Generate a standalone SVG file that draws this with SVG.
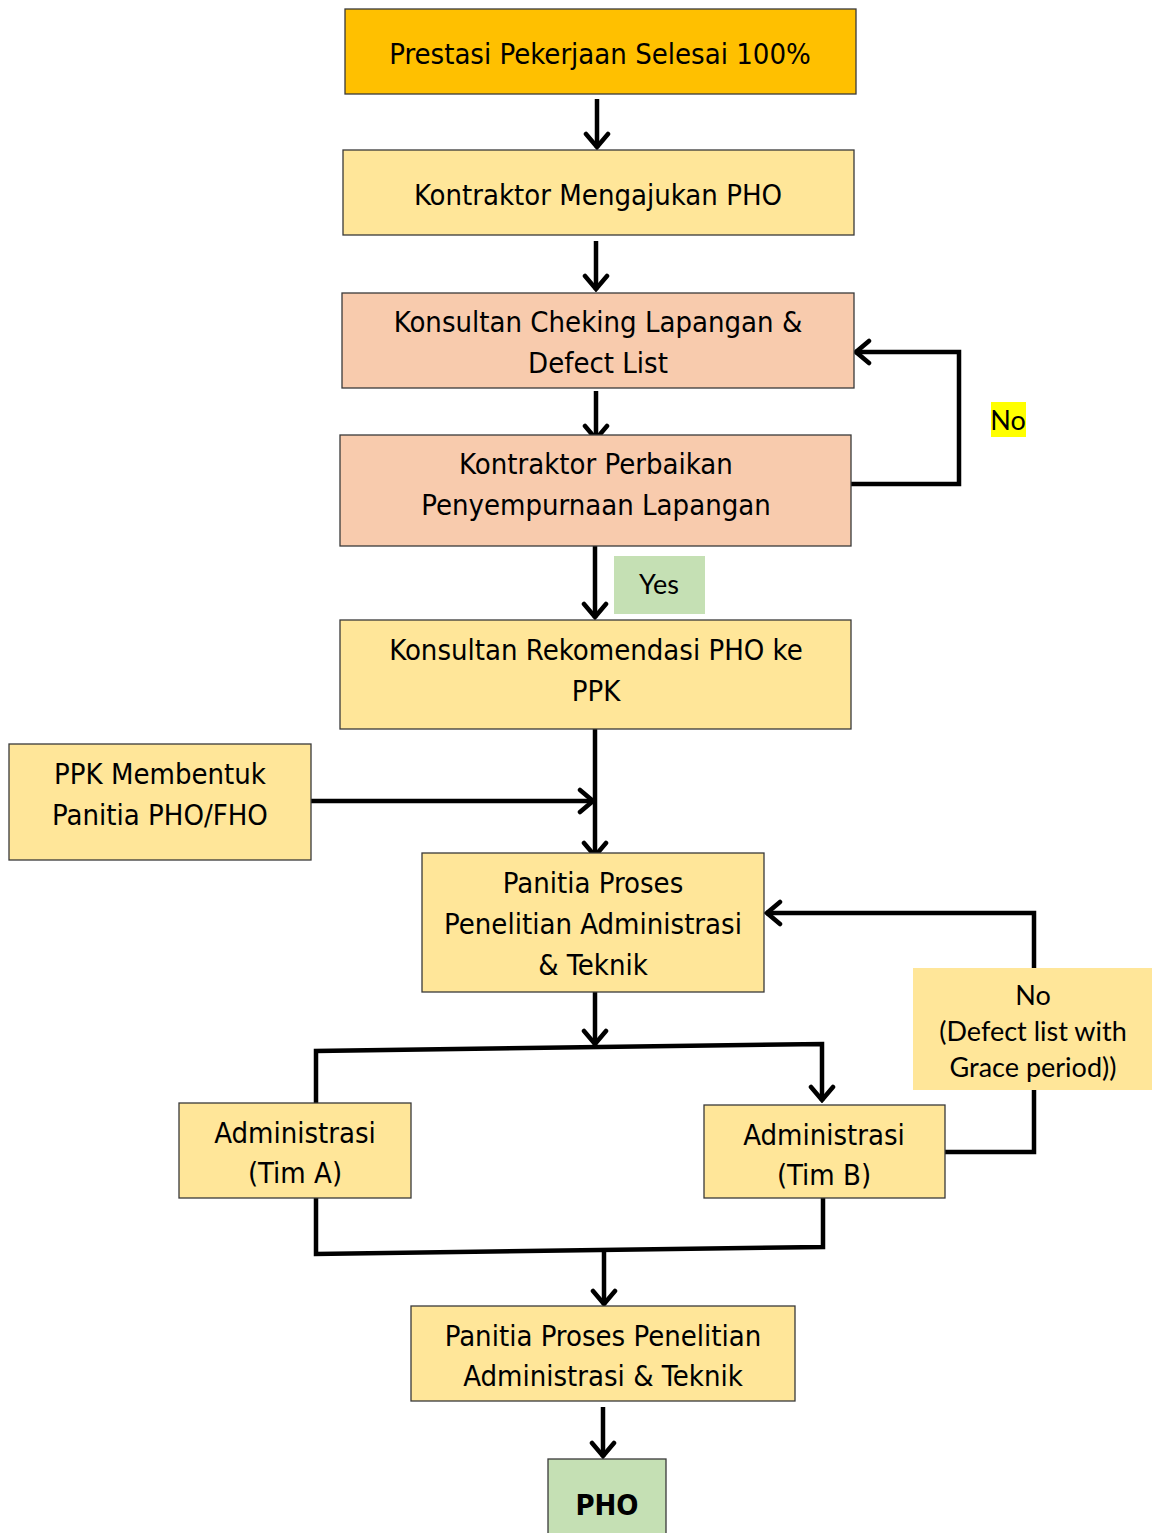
<svg xmlns="http://www.w3.org/2000/svg" width="1152" height="1533" viewBox="0 0 1152 1533">
<defs>
<style>
.box{stroke:#3a3a3a;stroke-width:1.3}
.t{font-family:"DejaVu Sans Condensed","DejaVu Sans",sans-serif;font-size:29px;fill:#000;text-anchor:middle}
.c{font-family:Lato,"Open Sans",sans-serif;font-size:27px;fill:#000;text-anchor:middle}
.ln{fill:none;stroke:#000;stroke-width:4.5;stroke-linejoin:miter}
</style>
<marker id="ah" viewBox="0 0 24 28" refX="22" refY="14" markerWidth="24" markerHeight="28" markerUnits="userSpaceOnUse" orient="auto">
<path d="M8,3 L21,14 L8,25" fill="none" stroke="#000" stroke-width="4.5" stroke-linecap="round"/>
</marker>
</defs>
<rect width="1152" height="1533" fill="#fff"/>
<g id="connectors">
<line class="ln" x1="597" y1="99" x2="597" y2="148" marker-end="url(#ah)"/>
<line class="ln" x1="596" y1="241" x2="596" y2="290" marker-end="url(#ah)"/>
<line class="ln" x1="596" y1="391" x2="596" y2="440" marker-end="url(#ah)"/>
<polyline class="ln" points="851,484 959,484 959,352 855,352" marker-end="url(#ah)"/>
<line class="ln" x1="595" y1="546" x2="595" y2="618" marker-end="url(#ah)"/>
<line class="ln" x1="595" y1="729" x2="595" y2="857" marker-end="url(#ah)"/>
<line class="ln" x1="311" y1="801" x2="594" y2="801" marker-end="url(#ah)"/>
<line class="ln" x1="595" y1="992" x2="595" y2="1045" marker-end="url(#ah)"/>
<polyline class="ln" points="316,1107 316,1051 822,1044 822,1101" marker-end="url(#ah)"/>
<polyline class="ln" points="945,1152 1034,1152 1034,913 766,913" marker-end="url(#ah)"/>
<polyline class="ln" points="316,1198 316,1254 823,1247 823,1198"/>
<line class="ln" x1="604" y1="1251" x2="604" y2="1305" marker-end="url(#ah)"/>
<line class="ln" x1="603" y1="1407" x2="603" y2="1457" marker-end="url(#ah)"/>
</g>
<g id="n1"><rect class="box" x="345" y="9" width="511" height="85" fill="#FFC000"/><text class="t" x="600" y="64">Prestasi Pekerjaan Selesai 100%</text></g>
<g id="n2"><rect class="box" x="343" y="150" width="511" height="85" fill="#FFE699"/><text class="t" x="598" y="205">Kontraktor Mengajukan PHO</text></g>
<g id="n3"><rect class="box" x="342" y="293" width="512" height="95" fill="#F8CBAD"/><text class="t" x="598" y="332">Konsultan Cheking Lapangan &amp;</text><text class="t" x="598" y="373">Defect List</text></g>
<g id="n4"><rect class="box" x="340" y="435" width="511" height="111" fill="#F8CBAD"/><text class="t" x="596" y="474">Kontraktor Perbaikan</text><text class="t" x="596" y="515">Penyempurnaan Lapangan</text></g>
<g id="lblNo1"><rect x="991" y="402" width="35" height="35" fill="#FFFF00"/><text class="c" x="1008" y="430">No</text></g>
<g id="lblYes"><rect x="614" y="556" width="91" height="58" fill="#C5E0B4"/><text class="c" x="659" y="594">Yes</text></g>
<g id="n5"><rect class="box" x="340" y="620" width="511" height="109" fill="#FFE699"/><text class="t" x="596" y="660">Konsultan Rekomendasi PHO ke</text><text class="t" x="596" y="701">PPK</text></g>
<g id="n6"><rect class="box" x="9" y="744" width="302" height="116" fill="#FFE699"/><text class="t" x="160" y="784">PPK Membentuk</text><text class="t" x="160" y="825">Panitia PHO/FHO</text></g>
<g id="n7"><rect class="box" x="422" y="853" width="342" height="139" fill="#FFE699"/><text class="t" x="593" y="893">Panitia Proses</text><text class="t" x="593" y="934">Penelitian Administrasi</text><text class="t" x="593" y="975">&amp; Teknik</text></g>
<g id="lblNo2"><rect x="913" y="968" width="239" height="122" fill="#FFE699"/><text class="c" x="1033" y="1005">No</text><text class="c" x="1033" y="1041">(Defect list with</text><text class="c" x="1033" y="1077">Grace period))</text></g>
<g id="n8"><rect class="box" x="179" y="1103" width="232" height="95" fill="#FFE699"/><text class="t" x="295" y="1143">Administrasi</text><text class="t" x="295" y="1183">(Tim A)</text></g>
<g id="n9"><rect class="box" x="704" y="1105" width="241" height="93" fill="#FFE699"/><text class="t" x="824" y="1145">Administrasi</text><text class="t" x="824" y="1185">(Tim B)</text></g>
<g id="n10"><rect class="box" x="411" y="1306" width="384" height="95" fill="#FFE699"/><text class="t" x="603" y="1346">Panitia Proses Penelitian</text><text class="t" x="603" y="1386">Administrasi &amp; Teknik</text></g>
<g id="n11"><rect class="box" x="548" y="1459" width="118" height="80" fill="#C5E0B4"/><text class="t" x="607" y="1515" style="font-weight:bold">PHO</text></g>
</svg>
